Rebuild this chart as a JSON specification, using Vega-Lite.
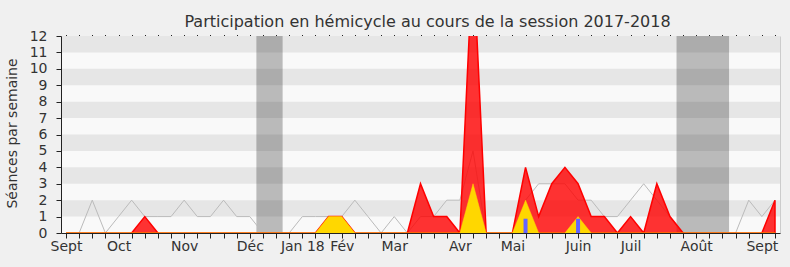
{
  "$schema": "https://vega.github.io/schema/vega-lite/v6.json",
  "width": 719,
  "height": 197,
  "autosize": "none",
  "padding": {"left": 61, "top": 36, "right": 10, "bottom": 34},
  "background": "#F0F0F0",
  "config": {
    "view": {"fill": "#F9F9F9", "stroke": null},
    "font": "DejaVu Sans"
  },
  "title": {
    "text": "Participation en hémicycle au cours de la session 2017-2018",
    "font": "DejaVu Sans",
    "fontSize": 16,
    "fontWeight": "normal",
    "color": "#333333",
    "anchor": "middle",
    "baseline": "alphabetic",
    "dx": 7,
    "dy": 25,
    "offset": 11
  },
  "datasets": {
    "semaines": [
      {"semaine": 0, "mediane": 0, "presences": 0, "interventions": 0, "questions": 0},
      {"semaine": 1, "mediane": 0, "presences": 0, "interventions": 0, "questions": 0},
      {"semaine": 2, "mediane": 2, "presences": 0, "interventions": 0, "questions": 0},
      {"semaine": 3, "mediane": 0, "presences": 0, "interventions": 0, "questions": 0},
      {"semaine": 4, "mediane": 1, "presences": 0, "interventions": 0, "questions": 0},
      {"semaine": 5, "mediane": 2, "presences": 0, "interventions": 0, "questions": 0},
      {"semaine": 6, "mediane": 1, "presences": 1, "interventions": 0, "questions": 0},
      {"semaine": 7, "mediane": 1, "presences": 0, "interventions": 0, "questions": 0},
      {"semaine": 8, "mediane": 1, "presences": 0, "interventions": 0, "questions": 0},
      {"semaine": 9, "mediane": 2, "presences": 0, "interventions": 0, "questions": 0},
      {"semaine": 10, "mediane": 1, "presences": 0, "interventions": 0, "questions": 0},
      {"semaine": 11, "mediane": 1, "presences": 0, "interventions": 0, "questions": 0},
      {"semaine": 12, "mediane": 2, "presences": 0, "interventions": 0, "questions": 0},
      {"semaine": 13, "mediane": 1, "presences": 0, "interventions": 0, "questions": 0},
      {"semaine": 14, "mediane": 1, "presences": 0, "interventions": 0, "questions": 0},
      {"semaine": 15, "mediane": 0, "presences": 0, "interventions": 0, "questions": 0},
      {"semaine": 16, "mediane": 0, "presences": 0, "interventions": 0, "questions": 0},
      {"semaine": 17, "mediane": 0, "presences": 0, "interventions": 0, "questions": 0},
      {"semaine": 18, "mediane": 1, "presences": 0, "interventions": 0, "questions": 0},
      {"semaine": 19, "mediane": 1, "presences": 0, "interventions": 0, "questions": 0},
      {"semaine": 20, "mediane": 1, "presences": 1, "interventions": 1, "questions": 0},
      {"semaine": 21, "mediane": 1, "presences": 1, "interventions": 1, "questions": 0},
      {"semaine": 22, "mediane": 2, "presences": 0, "interventions": 0, "questions": 0},
      {"semaine": 23, "mediane": 1, "presences": 0, "interventions": 0, "questions": 0},
      {"semaine": 24, "mediane": 0, "presences": 0, "interventions": 0, "questions": 0},
      {"semaine": 25, "mediane": 1, "presences": 0, "interventions": 0, "questions": 0},
      {"semaine": 26, "mediane": 0, "presences": 0, "interventions": 0, "questions": 0},
      {"semaine": 27, "mediane": 1, "presences": 3, "interventions": 0, "questions": 0},
      {"semaine": 28, "mediane": 1, "presences": 1, "interventions": 0, "questions": 0},
      {"semaine": 29, "mediane": 2, "presences": 1, "interventions": 0, "questions": 0},
      {"semaine": 30, "mediane": 2, "presences": 0, "interventions": 0, "questions": 0},
      {"semaine": 31, "mediane": 5, "presences": 17, "interventions": 3, "questions": 0},
      {"semaine": 32, "mediane": 0, "presences": 0, "interventions": 0, "questions": 0},
      {"semaine": 33, "mediane": 0, "presences": 0, "interventions": 0, "questions": 0},
      {"semaine": 34, "mediane": 0, "presences": 0, "interventions": 0, "questions": 0},
      {"semaine": 35, "mediane": 2, "presences": 4, "interventions": 2, "questions": 0.87},
      {"semaine": 36, "mediane": 3, "presences": 1, "interventions": 0, "questions": 0},
      {"semaine": 37, "mediane": 3, "presences": 3, "interventions": 0, "questions": 0},
      {"semaine": 38, "mediane": 3, "presences": 4, "interventions": 0, "questions": 0},
      {"semaine": 39, "mediane": 2, "presences": 3, "interventions": 1, "questions": 0.87},
      {"semaine": 40, "mediane": 2, "presences": 1, "interventions": 0, "questions": 0},
      {"semaine": 41, "mediane": 1, "presences": 1, "interventions": 0, "questions": 0},
      {"semaine": 42, "mediane": 1, "presences": 0, "interventions": 0, "questions": 0},
      {"semaine": 43, "mediane": 2, "presences": 1, "interventions": 0, "questions": 0},
      {"semaine": 44, "mediane": 3, "presences": 0, "interventions": 0, "questions": 0},
      {"semaine": 45, "mediane": 2, "presences": 3, "interventions": 0, "questions": 0},
      {"semaine": 46, "mediane": 1, "presences": 1, "interventions": 0, "questions": 0},
      {"semaine": 47, "mediane": 0, "presences": 0, "interventions": 0, "questions": 0},
      {"semaine": 48, "mediane": 0, "presences": 0, "interventions": 0, "questions": 0},
      {"semaine": 49, "mediane": 0, "presences": 0, "interventions": 0, "questions": 0},
      {"semaine": 50, "mediane": 0, "presences": 0, "interventions": 0, "questions": 0},
      {"semaine": 51, "mediane": 0, "presences": 0, "interventions": 0, "questions": 0},
      {"semaine": 52, "mediane": 2, "presences": 0, "interventions": 0, "questions": 0},
      {"semaine": 53, "mediane": 1, "presences": 0, "interventions": 0, "questions": 0},
      {"semaine": 54, "mediane": 2, "presences": 2, "interventions": 0, "questions": 0}
    ],
    "bandes": [
      {"de": 1, "a": 2}, {"de": 3, "a": 4}, {"de": 5, "a": 6},
      {"de": 7, "a": 8}, {"de": 9, "a": 10}, {"de": 11, "a": 12}
    ],
    "vacances": [
      {"debut": 14.5, "fin": 16.5},
      {"debut": 46.5, "fin": 50.5}
    ]
  },
  "layer": [
    {
      "data": {"name": "bandes"},
      "mark": {"type": "rect", "color": "#E6E6E6"},
      "encoding": {
        "y": {"field": "de", "type": "quantitative", "scale": {"domain": [0, 12], "nice": false, "zero": true},
              "axis": {"orient": "right", "domainColor": "#CCCCCC", "ticks": false, "labels": false, "title": null, "grid": false}},
        "y2": {"field": "a"}
      }
    },
    {
      "data": {"name": "vacances"},
      "mark": {"type": "rect", "color": "#000000", "opacity": 0.25},
      "encoding": {
        "x": {"field": "debut", "type": "quantitative", "scale": {"domain": [0, 54], "nice": false, "zero": false},
              "axis": {"orient": "top", "values": [0,1,2,3,4,5,6,7,8,9,10,11,12,13,14,15,16,17,18,19,20,21,22,23,24,25,26,27,28,29,30,31,32,33,34,35,36,37,38,39,40,41,42,43,44,45,46,47,48,49,50,51,52,53,54],
                       "domain": false, "labels": false, "tickSize": 1.5, "tickColor": "#222222", "title": null, "grid": false}},
        "x2": {"field": "fin"}
      }
    },
    {
      "data": {"name": "semaines"},
      "mark": {"type": "line", "color": "#BBBBBB", "strokeWidth": 1},
      "encoding": {
        "x": {"field": "semaine", "type": "quantitative", "scale": {"domain": [0, 54], "nice": false, "zero": false},
              "axis": {"orient": "bottom", "values": [0,1,2,3,4,5,6,7,8,9,10,11,12,13,14,15,16,17,18,19,20,21,22,23,24,25,26,27,28,29,30,31,32,33,34,35,36,37,38,39,40,41,42,43,44,45,46,47,48,49,50,51,52,53,54],
                       "labelExpr": "datum.value == 0 || datum.value == 53 ? 'Sept' : datum.value == 4 ? 'Oct' : datum.value == 9 ? 'Nov' : datum.value == 14 ? 'Déc' : datum.value == 18 ? 'Jan 18' : datum.value == 21 ? 'Fév' : datum.value == 25 ? 'Mar' : datum.value == 30 ? 'Avr' : datum.value == 34 ? 'Mai' : datum.value == 39 ? 'Juin' : datum.value == 43 ? 'Juil' : datum.value == 48 ? 'Août' : ''",
                       "labelOverlap": false, "labelFlush": false, "labelBound": false,
                       "labelFont": "DejaVu Sans", "labelFontSize": 14, "labelColor": "#333333", "labelPadding": 1,
                       "tickSize": 5, "tickColor": "#222222", "domainColor": "#222222",
                       "title": null, "grid": false, "zindex": 1}},
        "y": {"field": "mediane", "type": "quantitative", "scale": {"domain": [0, 12], "nice": false, "zero": true},
              "axis": {"orient": "left", "values": [0,1,2,3,4,5,6,7,8,9,10,11,12],
                       "labelFont": "DejaVu Sans", "labelFontSize": 14, "labelColor": "#333333", "labelPadding": 9,
                       "tickSize": 5, "tickColor": "#222222", "domainColor": "#222222", "grid": false, "zindex": 1,
                       "title": "Séances par semaine", "titleFont": "DejaVu Sans", "titleFontSize": 14, "titleFontWeight": "normal",
                       "titleColor": "#333333", "titleAngle": -90, "titleAlign": "center", "titleBaseline": "alphabetic",
                       "titleX": -45, "titleY": 97}}
      }
    },
    {
      "data": {"name": "semaines"},
      "mark": {"type": "area", "color": "#FF0000", "fillOpacity": 0.8, "stroke": "#FF0000", "strokeWidth": 1.5, "clip": true, "interpolate": "linear"},
      "encoding": {
        "x": {"field": "semaine", "type": "quantitative", "scale": {"domain": [0, 54], "nice": false, "zero": false}, "axis": null},
        "y": {"field": "presences", "type": "quantitative", "scale": {"domain": [0, 12], "nice": false, "zero": true}, "axis": null}
      }
    },
    {
      "data": {"name": "semaines"},
      "mark": {"type": "area", "color": "#FFD700", "fillOpacity": 1, "stroke": "#FFD700", "strokeOpacity": 0.5, "strokeWidth": 1, "clip": true, "interpolate": "linear"},
      "encoding": {
        "x": {"field": "semaine", "type": "quantitative", "scale": {"domain": [0, 54], "nice": false, "zero": false}, "axis": null},
        "y": {"field": "interventions", "type": "quantitative", "scale": {"domain": [0, 12], "nice": false, "zero": true}, "axis": null}
      }
    },
    {
      "data": {"name": "semaines"},
      "mark": {"type": "bar", "color": "#6464FF", "size": 4},
      "encoding": {
        "x": {"field": "semaine", "type": "quantitative", "scale": {"domain": [0, 54], "nice": false, "zero": false}, "axis": null},
        "y": {"field": "questions", "type": "quantitative", "scale": {"domain": [0, 12], "nice": false, "zero": true}, "axis": null}
      }
    }
  ],
  "resolve": {"axis": {"x": "independent", "y": "independent"}}
}
